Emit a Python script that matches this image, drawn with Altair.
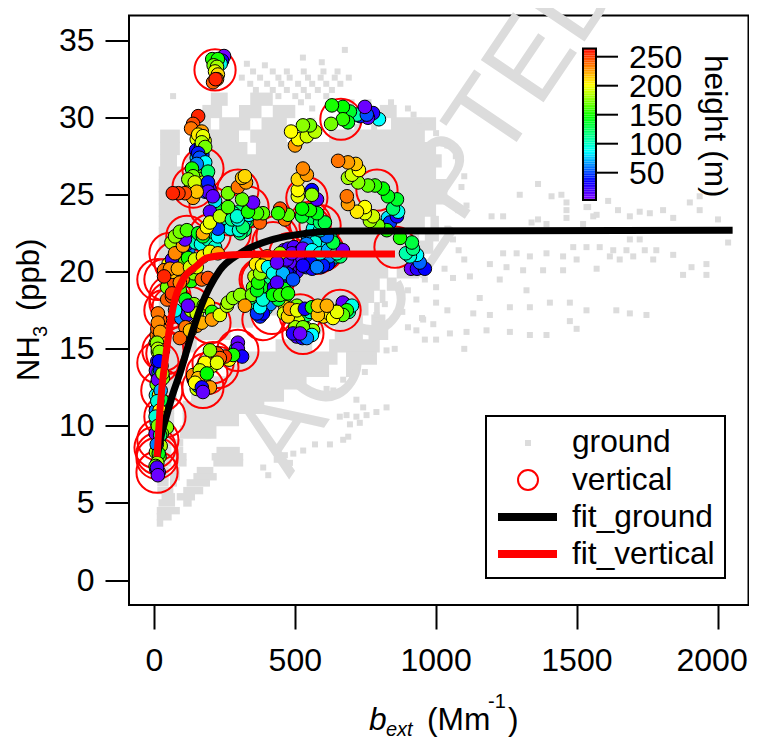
import altair as alt
import pandas as pd

# ---------- axis geometry helpers (reference page pixels -> data units) ----------
def dx(p): return (p - 154.5) / 0.2816
def dy(p): return (580 - p) / 15.41

RIGHT = 748.5
XS = alt.Scale(domain=[dx(129), dx(RIGHT)], nice=False, zero=False)
YS = alt.Scale(domain=[dy(605), dy(15.5)], nice=False, zero=False)
FONT = "Liberation Sans"
GRAY = "#dcdcdc"

x_ticks = [0, 500, 1000, 1500, 2000]
y_ticks = [0, 5, 10, 15, 20, 25, 30, 35]
cbar_ticks = [50, 100, 150, 200, 250]

# ---------- ground: solid parts of the cloud as [y, x0, x1] rows ----------
ground_rows = [
    (31.2,[(200,260),(340,420)]),
    (30.4,[(170,240),(300,380),(420,500),(800,860)]),
    (29.6,[(150,200),(230,340),(380,470),(840,1000)]),
    (28.8,[(20,90),(150,300),(340,470),(620,960)]),
    (28.0,[(20,90),(150,330),(360,1000)]),
    (27.2,[(20,80),(110,1020)]),
    (26.4,[(15,1000)]),(25.6,[(15,1040)]),(24.8,[(15,1040)]),
    (24.0,[(15,1000)]),(23.2,[(15,960),(980,1010)]),(22.4,[(15,940),(960,1010)]),
    (21.6,[(15,900),(930,990)]),(20.8,[(15,880),(910,960)]),(20.0,[(15,830),(860,940)]),
    (19.2,[(15,800),(825,860)]),(18.4,[(15,780),(800,820)]),(17.6,[(15,760),(780,800)]),
    (16.8,[(15,350),(600,740),(770,820)]),
    (16.0,[(15,270),(640,740),(760,830)]),
    (15.2,[(15,150),(430,560),(620,800)]),
    (14.4,[(15,100),(310,650),(680,790)]),
    (13.6,[(15,90),(260,620),(680,720)]),
    (12.8,[(15,80),(200,540)]),
    (12.0,[(15,80),(130,460)]),
    (11.2,[(15,70),(100,390)]),
    (10.4,[(15,70),(100,300)]),
    (9.6,[(10,70),(90,220)]),
]
ground_rows_fine = [
    (8.9,[(10,60),(67,102)]),(8.4,[(10,60),(67,102),(220,303)]),(8.0,[(10,60),(67,114),(203,315)]),(7.6,[(10,60),(67,114),(209,315)]),
    (7.1,[(10,50),(67,90),(150,209)]),(6.7,[(10,50),(55,90),(138,221)]),(6.3,[(10,50),(55,80),(114,197)]),(5.8,[(10,50),(31,67),(102,173)]),
    (5.4,[(25,73),(79,144)]),(5.0,[(14,73),(102,132)]),(4.5,[(8,90)]),(4.1,[(8,61)]),(3.7,[(8,31)]),
]

# ---------- ground: individually readable squares ----------
ground_scatter_top = [(676,34.4),(527,33.9),(594,33.6),(328,33.5),(392,33.4),(350,33.0),(420,33.0),(470,33.0),(530,33.0),(600,33.0),(650,33.0),
 (310,32.6),(375,32.6),(440,32.6),(480,32.6),(545,32.6),(590,32.6),(640,32.6),(690,32.6),(340,32.2),(400,32.2),(450,32.2),(510,32.2),(560,32.2),(610,32.2),(660,32.2),
 (360,31.8),(420,31.8),(470,31.8),(530,31.8),(580,31.8),(630,31.8),(66,31.4),(440,31.4),(500,31.4),(545,31.4),(610,31.4),(520,31.0),(700,31.0),(760,31.0),(840,31.0),
 (560,30.6),(900,30.6),(920,30.2),(560,29.8),(640,29.8),(940,29.8),(720,29.4),(780,29.4),(1000,29.0),(1040,28.2),(1070,27.5),(1080,26.8),(1100,26.2),(1090,25.5)]
ground_scatter_right = [(1362,25.7),(1297,25.0),(1410,24.9),(1445,25.0),(1463,24.5),(1534,25.2),(1540,24.2),(1108,24.3),(1079,24.0),(1197,23.6),(1238,23.6),(1339,23.2),(1362,23.4),(1392,23.1),(1463,23.5),(1522,23.1),(1558,23.6),
 (1611,24.6),(1463,24.0),(1534,24.2),(1570,23.7),(1646,24.0),(1688,23.6),(1723,23.9),(1759,23.8),(1806,24.0),(1842,23.5),(1901,24.5),(1936,24.9),(1936,24.0),(2001,23.4),(2037,21.9),(1723,22.1),(1688,22.1),
 (1487,21.6),(1534,21.6),(1581,21.6),(1629,21.4),(1676,21.4),(1741,21.4),(1782,21.4),(1842,21.1),(1907,20.3),(1960,20.5),(1877,19.8),(1960,19.8),(1771,20.8),(1700,21.0),(1652,20.8),(1617,21.0),(1570,20.2),(1499,20.8),(1451,21.0),(1392,21.2),(1333,21.0),(1286,21.2),(1238,21.2),(1191,20.5),(1250,20.3),(1309,20.1),(1380,20.1),(1451,20.1),(1120,19.7),(1226,19.5),(1321,18.8),(1155,18.3),(1262,17.7),(1333,17.7),(1404,18.0),(1475,18.0),(1534,17.5),(1640,17.5),(1688,17.3),(1747,17.2),(1475,16.8),(1132,17.3),(1191,17.2),(1108,16.1),(1179,16.2),(1262,16.1),(1333,15.9),(1392,15.9),(1499,16.3),(1049,16.0),
 (1040,22.8),(1060,22.1),(1080,21.4),(1100,20.8),(1030,20.2),(1060,19.6),(1000,19.0),(960,19.5),(900,18.8),(930,18.2),(1000,18.0),(1040,17.5),(880,17.4),(950,17.0),(990,16.6),(900,16.4),(1000,15.6),(1100,15.0)]
ground_scatter_low = [(824,14.9),(853,15.0),(765,14.4),(747,13.5),(635,12.3),(670,13.0),(694,13.85),(611,12.4),(741,11.2),(717,11.7),(824,11.2),(788,10.9),(753,10.7),(717,10.6),(682,10.7),(658,10.6),(729,10.2),(694,10.1),(688,9.3),(670,9.1),(623,8.8),(570,8.8),(528,8.4),(493,8.2),(463,8.1),(434,7.8),(481,7.6),(404,6.8),(386,7.3),(197,10.1),(191,9.4),(960,15.6),(930,16.2),(859,17.3),(788,17.2),(954,16.9),(818,17.9)]

# ---------- vertical: (b_ext, NH3, height) read track by track ----------
more_central = [(445,21.0,8),(460,21.4,10),(475,21.5,20),(495,21.6,15),(515,21.3,30),(535,21.2,40),(555,20.9,50),(575,20.6,40),(595,21.1,70),(625,20.7,55),(645,21.0,95),(655,21.5,110),(630,21.3,100),(600,21.5,90),(580,22.0,100),(560,22.2,85),(545,22.3,70),(605,22.0,85),(625,22.2,110),(515,20.4,25),(505,20.0,20),(540,20.3,45),(560,20.2,30),(590,20.3,50),(615,20.5,35),(480,20.1,10)]
more_mid = [(375,18.4,120),(370,19.5,160),(360,19.0,145),(385,19.4,165),(380,20.5,195),(370,18.0,130),(390,17.7,60),(375,17.1,40),(395,18.4,90),(425,19.6,60),(440,20.0,50),(455,19.3,30),(470,20.2,25),(480,19.8,35),(420,20.6,70),(410,20.3,85),(400,20.1,130),(415,19.7,100),(405,18.8,90),(430,18.7,125),(450,18.2,135),(465,18.4,150)]
more_upper = [(280,22.9,100),(290,23.0,110),(300,23.9,120),(310,23.1,95),(280,23.8,105),(270,23.5,85),(320,22.7,115),(305,22.5,120),(330,23.3,130),(170,25.5,190),(185,25.6,40),(160,25.4,205),(175,26.2,170),(150,26.0,180),(140,25.3,210),(195,25.4,15)]
more_left = [(70,20.9,70),(78,21.9,60),(50,20.5,200),(60,20.3,210),(105,22.4,160),(135,22.4,145),(80,22.2,170),(50,19.3,60),(45,19.0,170),(60,19.8,225),(75,18.6,200),(45,18.2,240),(90,18.8,160),(110,18.2,140),(105,17.4,30),(95,17.0,60),(115,17.2,20),(130,17.5,180),(140,17.9,175),(150,17.3,190),(175,17.8,170),(190,17.9,205),(110,16.4,235),(150,16.5,230)]
more_col = [(15,12.4,60),(10,13.4,20),(22,13.0,100),(12,14.8,190),(5,15.4,205),(18,15.2,160),(25,15.5,180),(30,16.6,230),(20,16.9,240),(12,17.3,235),(8,9.6,15),(14,11.3,85),(5,13.6,10)]
extra_central = [(470,21.0,15),(500,20.8,20),(540,21.0,25),(560,20.7,35),(600,20.8,45),(620,21.0,60),(640,21.6,90),(660,21.0,120),(590,21.7,100),(610,21.6,85),(570,21.9,95),(540,21.8,60),(510,20.9,10),(480,20.6,12),(450,19.6,60),(470,19.4,40),(410,19.2,90),(430,20.2,80),(440,19.1,100),(395,18.8,100),(400,19.6,110),(410,18.2,120),(380,19.0,140),(390,20.0,180),(370,20.8,210),(385,20.9,215),(400,21.0,225)]
extra_column = [(160,27.0,60),(170,27.6,45),(150,27.4,70),(175,26.9,90),(185,26.3,110),(165,26.7,130),(145,26.4,160),(160,26.0,175),(175,25.8,185),(130,25.5,195),(180,25.2,45),(172,28.0,180),(150,28.6,195),(178,28.5,190),(160,29.0,215),(148,27.9,30),(165,28.1,40)]
extra_left = [(100,20.2,170),(110,19.8,160),(130,19.4,150),(140,19.9,175),(120,20.2,185),(150,20.3,195),(90,20.0,230),(95,19.7,225),(100,19.5,235),(70,19.3,245),(65,20.0,215),(85,21.4,205),(95,21.0,190),(60,21.9,180),(120,21.4,60),(115,21.8,30),(130,22.2,15),(145,21.9,100),(165,21.8,90),(190,22.1,105),(205,22.6,120),(245,23.0,100),(250,23.5,110),(270,22.8,90),(300,22.7,95),(320,23.3,75),(335,23.7,85),(240,24.0,130),(215,24.6,80)]
extra_col_low = [(5,12.0,90),(20,12.9,15),(15,13.5,100),(25,13.9,150),(10,14.2,20),(22,14.5,190),(8,15.9,235),(18,15.7,215),(28,16.2,235),(10,16.3,240),(16,12.0,200),(8,12.7,170),(25,11.7,130),(5,11.0,60),(18,10.3,160),(8,10.2,90),(15,9.0,175),(22,8.7,185),(5,8.3,180),(18,8.0,165),(6,7.2,20),(15,7.0,10)]
extra_right = [(490,17.2,215),(520,17.0,175),(540,17.2,120),(600,17.1,210),(620,17.3,205),(660,17.6,160),(675,17.9,130),(690,17.4,110),(510,16.8,190),(540,16.3,175),(505,15.8,15),(525,15.7,30),(500,16.4,180),(465,17.7,200),(460,17.3,190)]
extra_low = [(160,12.9,150),(150,12.4,190),(140,13.0,35),(175,13.0,220),(185,14.0,210),(205,13.9,190),(215,14.5,230),(265,14.3,200),(290,15.0,120),(300,14.7,40),(170,13.8,180),(155,12.6,60)]
extra_mid = [(350,18.0,120),(365,17.6,100),(395,17.6,75),(350,19.0,170),(355,19.7,185),(360,20.5,205),(410,17.9,60),(440,18.2,130),(460,18.9,140),(425,19.0,20),(470,19.9,30)]
track_top = [(247,34.0,5),(240,33.7,30),(235,33.5,90),(205,33.8,150),(225,33.8,150),(210,33.4,170),(222,33.3,180),(215,33.0,195),(225,32.8,210),(222,32.5,225),(208,32.3,240),(217,32.5,255)]
track_column = [(155,30.1,255),(137,29.6,245),(130,29.3,235),(168,29.1,225),(155,28.9,205),(172,28.8,195),(168,28.4,185),(180,28.1,170),(155,27.7,40),(160,27.4,50),(180,27.1,85),(150,27.0,60),(133,26.7,150),(190,26.5,120),(137,26.2,170),(120,26.0,175),(143,25.8,190),(190,25.8,40),(190,25.2,15),(207,24.9,12),(137,24.8,225),(150,25.2,215),(108,25.1,245),(85,25.1,250),(65,25.1,255)]
track_peak = [(797,29.9,85),(776,30.3,25),(758,30.0,12),(730,30.1,40),(719,30.2,105),(694,30.4,135),(687,29.7,140),(669,30.7,145),(669,29.9,155),(630,30.8,150),(627,29.6,170),(754,30.2,50),(747,30.7,8)]
track_near_peak = [(499,28.2,225),(510,28.6,200),(541,28.8,190),(570,29.1,185),(552,29.5,170),(527,29.5,175),(485,29.1,200)]
track_d = [(527,20.4,30),(598,20.4,40),(577,20.3,60),(456,20.6,8),(470,20.8,15),(488,21.2,12),(527,21.5,10),(559,21.4,85),(588,21.2,90),(616,21.4,70),(648,21.2,100),(669,21.4,10),(634,21.9,130),(612,22.3,55),(563,22.8,90),(588,22.7,95),(559,23.5,125),(524,23.6,135),(588,23.2,120),(605,23.2,130),(577,23.8,140),(552,24.0,150),(524,24.1,145),(577,24.7,15),(559,25.3,35),(559,25.0,175),(509,24.9,195),(509,25.3,200),(509,26.0,210),(541,26.3,225),(527,26.7,230)]
track_e = [(829,23.5,80),(836,23.2,45),(861,23.6,30),(865,23.9,90),(847,24.1,120),(861,24.7,135),(829,24.9,140),(811,25.4,145),(783,25.6,155),(758,25.6,165),(723,25.8,175),(687,26.1,180),(701,26.3,190),(726,26.6,200),(715,27.0,215),(687,27.1,225),(652,27.2,235)]
track_f = [(911,20.2,8),(932,20.2,25),(960,20.2,35),(942,20.6,55),(932,21.1,85),(907,21.0,95),(893,21.2,105),(918,21.5,115),(914,21.9,130),(872,22.2,150),(825,22.7,150),(794,23.0,170),(765,23.3,180),(776,23.6,190),(747,23.8,195),(747,24.2,200),(719,23.9,205),(687,24.4,225),(683,24.9,235)]
track_g = [(62,20.8,20),(108,20.6,165),(119,20.9,150),(73,21.2,230),(101,21.7,225),(108,22.1,10),(73,22.3,175),(90,22.6,170),(115,22.7,160),(155,22.5,140),(172,22.3,135),(215,21.6,95),(225,22.3,85),(225,22.8,45),(197,23.9,15),(172,22.5,220),(186,22.9,200),(197,23.2,195),(232,23.6,185),(314,22.9,120),(275,23.4,115),(296,23.4,90),(293,23.6,95),(374,23.2,240),(463,23.4,235),(474,23.7,165),(446,24.1,245),(439,23.8,155),(385,23.8,165),(364,23.8,160),(332,23.9,150),(261,24.2,160),(350,24.5,10),(311,24.7,165),(261,25.1,170),(296,25.5,235),(325,25.8,225),(311,26.1,215),(321,26.2,210)]
track_h = [(90,19.3,230),(34,20.1,235),(55,20.2,228),(83,20.2,222),(126,20.3,190),(144,20.8,190),(172,21.0,205),(197,21.3,195),(225,21.2,220),(168,19.5,240),(190,19.6,245),(34,19.7,255),(62,18.4,245),(62,18.6,250),(119,17.8,10),(73,17.5,90),(204,17.4,150),(90,15.7,240),(126,16.2,215),(168,16.7,220),(204,16.9,225),(232,17.2,195),(257,17.8,185),(261,18.0,180),(279,18.3,175),(304,18.5,175),(346,18.5,170),(321,17.8,225)]
track_mid = [(385,17.3,35),(364,17.3,45),(375,17.7,85),(385,18.2,95),(364,18.8,140),(368,19.3,150),(375,19.9,175),(382,20.4,200),(446,21.2,175),(403,20.3,85),(421,19.9,90),(456,19.9,70),(435,20.6,10),(492,19.5,50),(435,19.3,15),(421,18.5,145),(446,18.5,155),(474,18.6,150)]
track_right = [(669,18.0,10),(701,17.8,90),(683,17.5,150),(669,17.2,165),(506,17.8,170),(474,17.1,210),(481,17.6,225),(506,17.5,195),(552,17.4,100),(534,17.6,30),(559,17.7,150),(634,17.0,200),(648,17.4,195),(580,17.2,215),(580,17.8,215),(612,17.8,220),(563,16.2,180),(527,16.4,170),(559,15.9,85),(541,15.7,60),(492,16.0,25),(517,16.0,8)]
track_low = [(296,15.4,10),(296,15.0,12),(311,14.5,30),(279,14.6,150),(250,14.5,250),(222,14.7,245),(232,14.4,240),(197,14.9,175),(179,14.1,200),(222,14.1,195),(137,13.3,230),(161,13.6,190),(155,13.1,215),(197,12.5,225),(144,12.8,200),(168,12.5,30),(186,13.4,145),(172,12.2,10)]
track_col_low = [(12,16.7,230),(20,16.1,225),(9,15.4,175),(30,14.9,235),(12,15.0,185),(18,14.8,175),(20,13.6,40),(30,13.1,170),(12,13.0,8),(28,13.4,180),(16,14.2,35),(22,12.3,70),(10,11.6,95),(18,11.0,200),(25,10.5,180),(4,10.6,95),(44,9.9,175),(26,9.5,165),(4,9.5,8),(12,10.0,170),(20,9.4,120),(8,8.8,60),(15,8.2,140),(10,7.6,180),(4,7.4,170),(9,7.3,15),(12,6.8,8)]
vertical_tracks = [more_central, more_mid, more_upper, more_left, more_col, extra_central, extra_column, extra_left, extra_col_low, extra_right, extra_low, extra_mid, track_top, track_column, track_peak, track_near_peak, track_e, track_f, track_g, track_d, track_h, track_mid, track_right, track_low, track_col_low]

ring_x = [215,662,172,137,296,332,541,790,552,588,268,421,854,197,115,73,37,55,126,417,517,659,527,296,208,172,186,225,30,12,26,37,12,9,2,9,9,44,55,197,385,375,382,598,
          55,12,66,37,197,268,435,552,481,577,382,421]
ring_y = [33.1,29.9,26.7,25.5,25.3,24.2,24.8,25.3,23.2,23.0,23.7,21.9,21.6,22.4,22.3,20.6,19.5,18.4,17.7,17.3,17.2,17.5,16.0,14.9,14.1,12.5,13.4,13.8,14.9,14.1,12.3,10.6,9.1,8.2,8.6,7.9,7.0,14.7,18.0,16.7,16.9,19.5,19.5,21.4,
          21.2,19.5,17.7,17.5,24.2,22.5,22.3,22.9,21.2,21.2,19.5,19.3]

fit_ground_x = [9,27,48,62,90,126,162,232,304,421,541,659,2053]
fit_ground_y = [8.0,9.6,11.0,11.9,13.4,15.6,17.6,20.1,21.2,22.1,22.5,22.65,22.7]
fit_vertical_x = [9,20,44,66,101,151,186,279,421,854]
fit_vertical_y = [8.0,11.2,15.1,17.7,19.5,20.4,20.9,21.1,21.15,21.15]

height_domain = [3, 35, 85, 145, 200, 264]
height_colors = ["#7f00ff", "#0000ff", "#00ffff", "#00ff00", "#ffff00", "#ff0000"]

# ---------- frames ----------
ground_rect = pd.DataFrame(
    [{"y0": y - 0.43, "y1": y + 0.43, "x0": a, "x1": b} for y, sp in ground_rows for a, b in sp] +
    [{"y0": y - 0.24, "y1": y + 0.24, "x0": a, "x1": b} for y, sp in ground_rows_fine for a, b in sp])
ground_pts = pd.DataFrame(ground_scatter_top + ground_scatter_right + ground_scatter_low, columns=["x", "y"])
vertical = pd.DataFrame([p for t in vertical_tracks for p in t], columns=["x", "y", "h"])
rings = pd.DataFrame({"x": ring_x, "y": ring_y})
fit_g = pd.DataFrame({"x": fit_ground_x, "y": fit_ground_y})
fit_v = pd.DataFrame({"x": fit_vertical_x, "y": fit_vertical_y})

AX = alt.Axis(values=x_ticks, labels=False, tickSize=24, tickWidth=2, tickColor="black", domain=False, grid=False)
AY = alt.Axis(values=y_ticks, format="d", tickSize=24, tickWidth=2, tickColor="black", domain=False, grid=False,
        labelFont=FONT, labelFontSize=32, labelColor="black", labelPadding=11, labelFlush=False, labelOverlap=False, labelBound=False)
def X(f="x", **k): return alt.X(f"{f}:Q", scale=XS, axis=AX, title=None, **k)
def Y(f="y", **k): return alt.Y(f"{f}:Q", scale=YS, axis=AY, title=None, **k)

def text(items, size=31.7, align="left", **mark):
    df = pd.DataFrame([{"t": t, "x": dx(px), "y": dy(py)} for t, px, py in items])
    return alt.Chart(df).mark_text(font=FONT, fontSize=size, color="black", align=align, baseline="alphabetic", **mark).encode(x=X(), y=Y(), text="t:N")

# x tick labels: the last one is nudged left so that it stays inside the page
xl = pd.DataFrame({"x": x_ticks, "t": [str(v) for v in x_ticks], "y": [dy(671)] * len(x_ticks)})
x_labels = alt.Chart(xl[xl.x < 2000]).mark_text(font=FONT, fontSize=32, color="black", baseline="alphabetic").encode(x=X(), y=Y(), text="t:N")
x_label_last = alt.Chart(xl[xl.x == 2000]).mark_text(font=FONT, fontSize=32, color="black", baseline="alphabetic", align="right", dx=30).encode(x=X(), y=Y(), text="t:N")

watermark = alt.Chart(pd.DataFrame({"t": ["ACCEPTED"], "x": [dx(429)], "y": [dy(213)]})).mark_text(
    font=FONT, fontSize=110, color=GRAY, angle=304, align="center", baseline="middle").encode(x=X(), y=Y(), text="t:N")

g_rect = alt.Chart(ground_rect).mark_rect(color=GRAY).encode(x=X("x0"), x2="x1:Q", y=Y("y0"), y2="y1:Q")
g_pts = alt.Chart(ground_pts).mark_point(shape="square", filled=True, color=GRAY, opacity=1, size=36).encode(x=X(), y=Y())
ring = alt.Chart(rings).mark_point(shape="circle", filled=False, color="#ff0000", strokeWidth=2, opacity=1, size=1700).encode(x=X(), y=Y())

hscale = alt.Scale(domain=height_domain, range=height_colors, clamp=True, interpolate="rgb")
pts = alt.Chart(vertical).mark_point(shape="circle", filled=True, stroke="black", strokeWidth=1, opacity=1, size=185).encode(
    x=X(), y=Y(), fill=alt.Fill("h:Q", legend=None, scale=hscale))

line_g = alt.Chart(fit_g).mark_line(color="black", strokeWidth=7, interpolate="monotone", strokeCap="butt").encode(x=X(), y=Y())
line_v = alt.Chart(fit_v).mark_line(color="#ff0000", strokeWidth=7, interpolate="monotone", strokeCap="butt").encode(x=X(), y=Y())

# ---------- colour bar ----------
cb_y = lambda h: dy(172.7 - (h - 50) * 0.58)
cb_strip = pd.DataFrame([{"h": h, "y0": cb_y(h), "y1": cb_y(h + 3), "x0": dx(583), "x1": dx(596)} for h in range(3, 264, 3)])
cbar = alt.Chart(cb_strip).mark_rect().encode(x=X("x0"), x2="x1:Q", y=Y("y0"), y2="y1:Q",
    fill=alt.Fill("h:Q", legend=None, scale=hscale))
cbar_box = alt.Chart(pd.DataFrame({"x0": [dx(583)], "x1": [dx(596)], "y0": [cb_y(3)], "y1": [cb_y(264)]})).mark_rect(
    fillOpacity=0, stroke="black", strokeWidth=2).encode(x=X("x0"), x2="x1:Q", y=Y("y0"), y2="y1:Q")
cb_t = pd.DataFrame([{"x0": dx(596), "x1": dx(618), "y": cb_y(h), "t": str(h), "xl": dx(629)} for h in cbar_ticks])
cbar_ticks_l = alt.Chart(cb_t).mark_rule(color="black", strokeWidth=2).encode(x=X("x0"), x2="x1:Q", y=Y())
cbar_labels = alt.Chart(cb_t).mark_text(font=FONT, fontSize=32, color="black", align="left", baseline="middle", dy=1).encode(x=X("xl"), y=Y(), text="t:N")
cbar_title = text([("height (m)", 705, 55)], angle=90)

# ---------- legend ----------
leg_box = alt.Chart(pd.DataFrame({"x0": [dx(486)], "x1": [dx(725)], "y0": [dy(578)], "y1": [dy(416)]})).mark_rect(
    fill="white", stroke="black", strokeWidth=2).encode(x=X("x0"), x2="x1:Q", y=Y("y0"), y2="y1:Q")
leg_sq = alt.Chart(pd.DataFrame({"x": [dx(528)], "y": [dy(443)]})).mark_point(shape="square", filled=True, color=GRAY, opacity=1, size=36).encode(x=X(), y=Y())
leg_ring = alt.Chart(pd.DataFrame({"x": [dx(528)], "y": [dy(480)]})).mark_point(shape="circle", filled=False, color="#ff0000", strokeWidth=2, opacity=1, size=400).encode(x=X(), y=Y())
leg_lg = alt.Chart(pd.DataFrame({"x": [dx(498)], "x1": [dx(557)], "y": [dy(517)]})).mark_rule(color="black", strokeWidth=8).encode(x=X(), x2="x1:Q", y=Y())
leg_lv = alt.Chart(pd.DataFrame({"x": [dx(498)], "x1": [dx(557)], "y": [dy(554)]})).mark_rule(color="#ff0000", strokeWidth=8).encode(x=X(), x2="x1:Q", y=Y())
leg_text = text([("ground", 572, 452), ("vertical", 572, 490), ("fit_ground", 572, 527), ("fit_vertical", 572, 564)])

# ---------- axis titles ----------
y_title = text([("NH", 39, 381), ("(ppb)", 39, 311)], size=31, angle=270)
y_sub = text([("3", 47, 337)], size=20, angle=270)
x_b = text([("b", 369, 730)], fontStyle="italic")
x_ext = text([("ext", 386, 736)], size=20, fontStyle="italic")
x_m = text([("(Mm", 427, 730), (")", 508, 730)])
x_sup = text([("-1", 488, 708)], size=20)

chart = alt.layer(
    watermark, g_rect, g_pts, ring, pts, line_g, line_v,
    cbar, cbar_box, cbar_ticks_l, cbar_labels, cbar_title,
    leg_box, leg_sq, leg_ring, leg_lg, leg_lv, leg_text,
    x_labels, x_label_last, y_title, y_sub, x_b, x_ext, x_m, x_sup,
).properties(
    width=RIGHT - 129, height=589.5,
    padding={"left": 121, "top": 7.5, "right": 0, "bottom": 132},
    autosize=alt.AutoSizeParams(type="none"),
).configure_view(stroke="black", strokeWidth=2)

chart.save("out.html", embed_options={"renderer": "svg", "actions": False})
